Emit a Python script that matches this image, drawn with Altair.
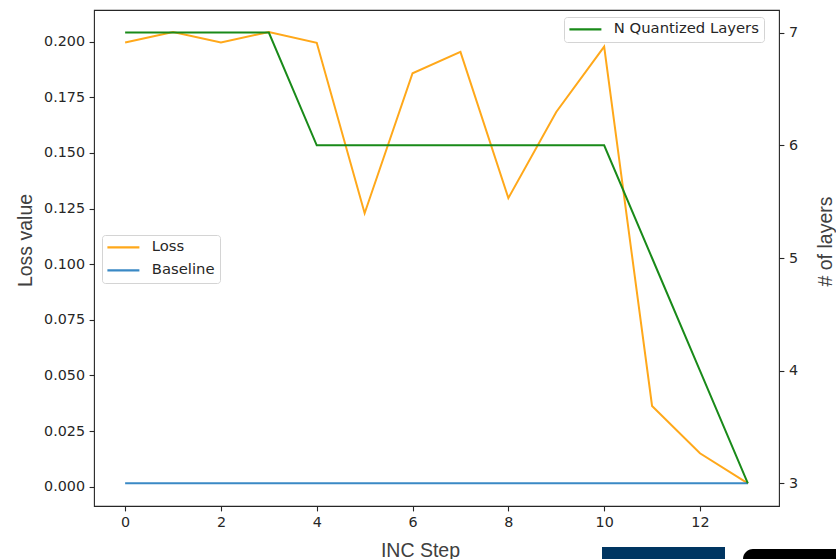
import altair as alt
import pandas as pd

# INC tuning run: loss per step, fixed baseline, and number of quantized layers
steps = list(range(14))
loss = [0.1996, 0.2044, 0.1996, 0.2044, 0.1995, 0.1229, 0.1858, 0.1954,
        0.1297, 0.1684, 0.1978, 0.0363, 0.0150, 0.0015]
baseline = [0.0015] * 14
n_layers = [7, 7, 7, 7, 6, 6, 6, 6, 6, 6, 6, 5, 4, 3]

left_series = ["Loss", "Baseline"]
left_colors = ["#ffa81a", "#3a89c5"]
right_series = ["N Quantized Layers"]
right_colors = ["#198a19"]

x_ticks = [0, 2, 4, 6, 8, 10, 12]
loss_ticks = [0.0, 0.025, 0.05, 0.075, 0.1, 0.125, 0.15, 0.175, 0.2]
layer_ticks = [3, 4, 5, 6, 7]

left_df = pd.DataFrame({
    "step": steps * 2,
    "value": loss + baseline,
    "series": ["Loss"] * len(steps) + ["Baseline"] * len(steps),
})
right_df = pd.DataFrame({
    "step": steps,
    "layers": n_layers,
    "series": right_series * len(steps),
})

x_enc = alt.X(
    "step:Q",
    scale=alt.Scale(domain=[-0.65, 13.65], nice=False, zero=False),
    axis=alt.Axis(values=x_ticks, format="d", title="INC Step",
                  titleX=326, titleY=50.5, titleAlign="center",
                  titleBaseline="alphabetic"),
)

left_y = alt.Y(
    "value:Q",
    scale=alt.Scale(domain=[-0.00868, 0.21425], nice=False, zero=False),
    axis=alt.Axis(values=loss_ticks, format=".3f", title="Loss value",
                  titleAngle=270, titleX=-63, titleY=230,
                  titleAlign="center", titleBaseline="alphabetic"),
)

legend_style = dict(
    symbolType="M-4,0L4,0", symbolSize=64, symbolStrokeWidth=2.1,
    symbolOffset=9, labelOffset=21, rowPadding=7, padding=5,
    strokeColor="#d4d4d4", fillColor="white", cornerRadius=3,
    labelFont="DejaVu Sans", labelFontSize=14.8, labelColor="#262626",
    labelBaseline="middle",
)

left_color = alt.Color(
    "series:N",
    scale=alt.Scale(domain=left_series, range=left_colors),
    legend=alt.Legend(title=None, orient="none", legendX=8, legendY=225,
                      **legend_style),
)

loss_line = alt.Chart(left_df).transform_filter(
    alt.datum.series == "Loss"
).mark_line(strokeWidth=2).encode(x=x_enc, y=left_y, color=left_color)

baseline_line = alt.Chart(left_df).transform_filter(
    alt.datum.series == "Baseline"
).mark_line(strokeWidth=2).encode(x=x_enc, y=left_y, color=left_color)

left = alt.layer(loss_line, baseline_line)

right = alt.Chart(right_df).mark_line(strokeWidth=2).encode(
    x=x_enc,
    y=alt.Y(
        "layers:Q",
        scale=alt.Scale(domain=[2.8, 7.2], nice=False, zero=False),
        axis=alt.Axis(values=layer_ticks, format="d", orient="right",
                      title="# of layers", titleAngle=270, titleX=52,
                      titleY=231, titleAlign="center",
                      titleBaseline="alphabetic"),
    ),
    color=alt.Color(
        "series:N",
        scale=alt.Scale(domain=right_series, range=right_colors),
        legend=alt.Legend(title=None, orient="none", legendX=470, legendY=7,
                          **legend_style),
    ),
)

# page elements sitting below the figure
blank = pd.DataFrame({"k": [0]})
blue_bar = alt.Chart(blank).mark_rect(color="#003561").encode(
    x=alt.value(508), x2=alt.value(631), y=alt.value(537), y2=alt.value(552)
)
black_pill = alt.Chart(blank).mark_rect(color="black", cornerRadiusTopLeft=10).encode(
    x=alt.value(649), x2=alt.value(760), y=alt.value(539), y2=alt.value(562)
)

chart = alt.layer(left, right, blue_bar, black_pill).resolve_scale(
    y="independent", color="independent"
).properties(
    width=685,
    height=496,
    autosize=alt.AutoSizeParams(type="none"),
    padding={"left": 94, "top": 10, "right": 57, "bottom": 53},
).configure_view(
    stroke="#262626", strokeWidth=1.1
).configure_axis(
    labelFont="DejaVu Sans", labelFontSize=14.3, labelColor="#262626",
    tickColor="#262626", tickSize=4.9, tickWidth=1.1, labelPadding=4.6,
    domain=False, grid=False,
    titleFont="Liberation Sans", titleFontSize=19.5, titleColor="#404040",
    titleFontWeight="normal",
)

chart.save("out.html", embed_options={"renderer": "svg", "actions": False})
